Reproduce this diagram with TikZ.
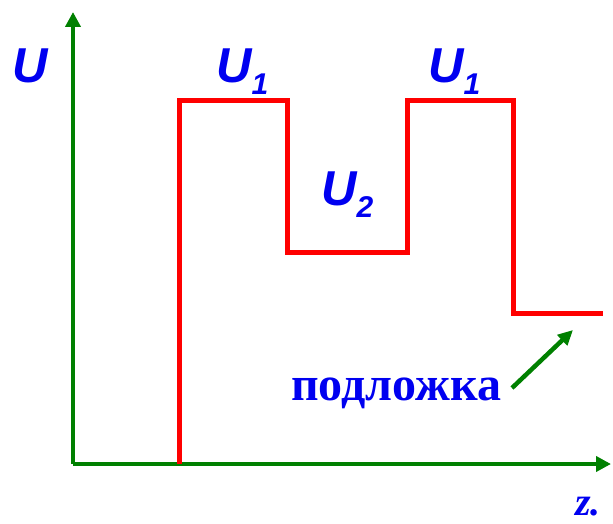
\documentclass[tikz,border=0pt]{standalone}
\usepackage{fontspec}
\setmainfont{Liberation Serif}
\setsansfont{Liberation Sans}
\usetikzlibrary{arrows.meta}
\definecolor{axgreen}{RGB}{0,128,0}
\definecolor{lblue}{RGB}{0,0,240}
\definecolor{pred}{RGB}{255,0,0}
\tikzset{
  axis/.style={draw=axgreen, line width=4.5pt, -{Triangle[length=15pt,width=15pt]}},
  pot/.style={draw=pred, line width=5pt, line join=miter},
  ulab/.style={anchor=base west, inner sep=0pt, text=lblue, font=\fontsize{49}{49}\selectfont\sffamily\bfseries\itshape}
}
\newcommand{\Usub}[1]{U\raisebox{-12pt}{\fontsize{30}{30}\selectfont #1}}
\begin{document}
\begin{tikzpicture}[x=1pt,y=-1pt]
\useasboundingbox (0,0) rectangle (613,524);
\coordinate (O) at (73,464);
\coordinate (Ytop) at (73,12);
\coordinate (Xend) at (611,464);
\draw[axis] (O) -- (Ytop);
\draw[axis] (O) -- (Xend);
\coordinate (p0) at (179,464);
\coordinate (p1) at (179,101);
\coordinate (p2) at (287,101);
\coordinate (p3) at (287,252);
\coordinate (p4) at (407,252);
\coordinate (p5) at (407,101);
\coordinate (p6) at (513,101);
\coordinate (p7) at (513,313);
\coordinate (p8) at (603,313);
\draw[pot] (p0) -- (p1) -- (p2) -- (p3) -- (p4) -- (p5) -- (p6) -- (p7) -- (p8);
\node[ulab] (uax) at (12,83) {U};
\node[ulab] (u1a) at (216,83) {\Usub{1}};
\node[ulab] (u2) at (321,205) {\Usub{2}};
\node[ulab] (u1b) at (428,83) {\Usub{1}};
\node[anchor=base west, inner sep=0pt, text=lblue, font=\fontsize{48}{48}\selectfont\bfseries] (sub) at (291,400) {подложка};
\coordinate (a1) at (512,388);
\coordinate (a2) at (573,330);
\draw[draw=axgreen, line width=4.5pt, -{Triangle[length=15pt,width=14pt]}] (a1) -- (a2);
\node[anchor=base west, inner sep=0pt, text=lblue, font=\fontsize{40}{40}\selectfont\bfseries\itshape] (z) at (575,515) {z.};
\end{tikzpicture}
\end{document}
